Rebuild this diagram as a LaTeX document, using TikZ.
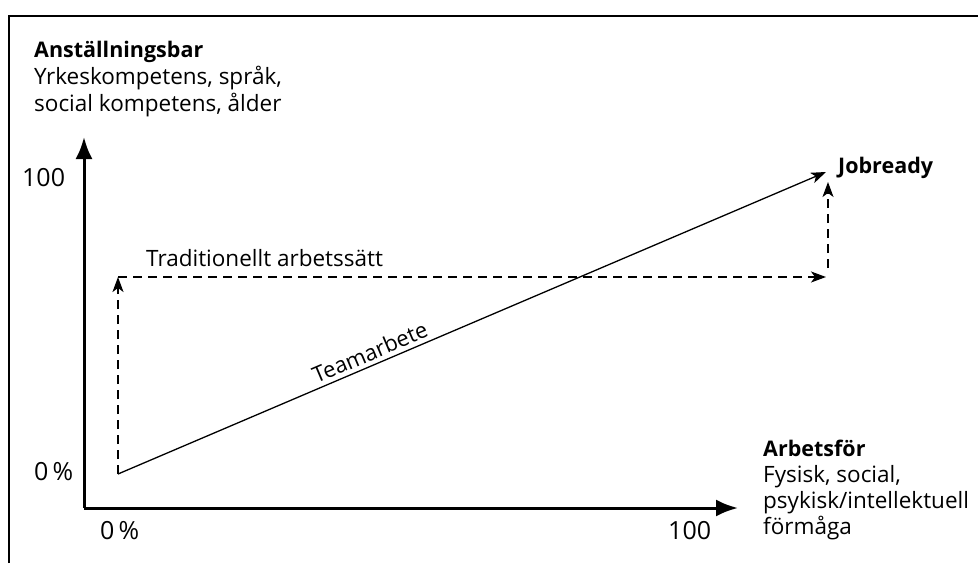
\documentclass[tikz,border=0pt]{standalone}
\usepackage{fontspec}
\setmainfont{Open Sans}
\usetikzlibrary{arrows.meta}
\begin{document}
\begin{tikzpicture}[x=1pt,y=-1pt,
  axis/.style={line width=3pt,-{Latex[length=22pt,width=17pt]}},
  path/.style={line width=1.3pt,-{Stealth[length=15pt,width=11pt,inset=4pt]}},
  dashpath/.style={path,dash pattern=on 9pt off 6pt},
  lbl/.style={inner sep=0pt,anchor=base west,font=\fontsize{22.5}{26}\selectfont},
  num/.style={lbl,font=\fontsize{25}{26}\selectfont},
  head/.style={lbl,font=\fontsize{21.5}{26}\selectfont\bfseries}]
  \useasboundingbox (0,0) rectangle (978,563);
  % frame
  \draw[line width=1.5pt] (9,563) -- (9,16) -- (978,16);

  % axes
  \coordinate (O) at (84,508);
  \coordinate (ytop) at (84,137);
  \coordinate (xend) at (738,508);
  \draw[axis] (O) -- (ytop);
  \draw[axis] (O) -- (xend);

  % route points
  \coordinate (S) at (118,474);
  \coordinate (T) at (118,277);
  \coordinate (H) at (826,277);
  \coordinate (V0) at (828,268);
  \coordinate (V1) at (828,182);
  \coordinate (J) at (826,172);

  \draw[dashpath] (S) -- (T);
  \draw[dashpath] (T) -- (H);
  \draw[dashpath] (V0) -- (V1);
  \draw[path] (S) -- node[sloped,above=4pt,pos=0.363,inner sep=0pt,font=\fontsize{22}{22}\selectfont] (team) {Teamarbete} (J);

  % labels
  \node[head] (ya) at (34,57) {Anställningsbar};
  \node[lbl] (yb) at (34,84) {Yrkeskompetens, språk,};
  \node[lbl] (yc) at (34,111) {social kompetens, ålder};
  \node[num] (y100) at (22,186) {100};
  \node[num] (y0) at (34,480) {0\,\%};
  \node[num] (x0) at (100,539) {0\,\%};
  \node[num] (x100) at (668,539) {100};
  \node[head] (job) at (838,173) {Jobready};
  \node[lbl] (trad) at (146,266) {Traditionellt arbetssätt};
  \node[head] (xa) at (763,456) {Arbetsför};
  \node[lbl] (xb) at (763,482) {Fysisk, social,};
  \node[lbl] (xc) at (763,508) {psykisk/intellektuell};
  \node[lbl] (xd) at (763,534) {förmåga};
\end{tikzpicture}
\end{document}
